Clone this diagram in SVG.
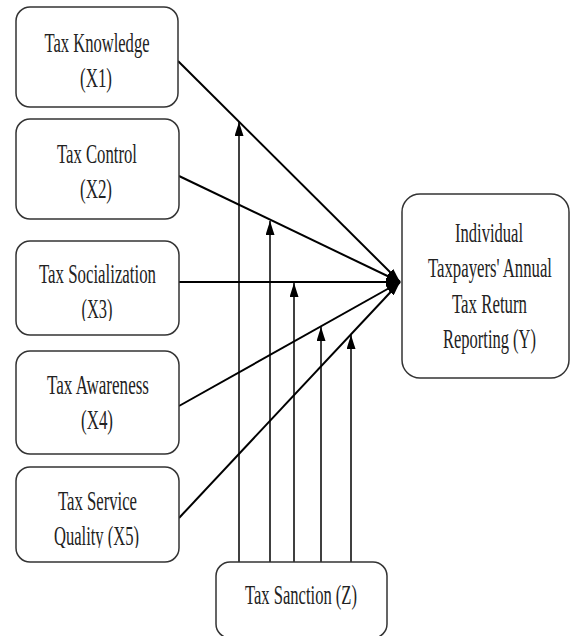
<svg xmlns="http://www.w3.org/2000/svg" width="570" height="636" viewBox="0 0 570 636">
<style>
.box{fill:#fff;stroke:#333;stroke-width:1.5}
.t{font-family:"Liberation Serif","Times New Roman",serif;font-size:27px;fill:#222;text-anchor:middle}
.ln{fill:none;stroke:#000;stroke-width:2}
.vl{fill:none;stroke:#000;stroke-width:1.5}
</style>
<defs>
<marker id="ah" viewBox="0 0 14 9" refX="14" refY="4.5" markerWidth="14" markerHeight="9" markerUnits="userSpaceOnUse" orient="auto">
<path d="M0,0 L14,4.5 L0,9 z" fill="#000"/>
</marker>
<clipPath id="c3"><rect x="16" y="241" width="163" height="80"/></clipPath>
<clipPath id="c5"><rect x="16" y="467" width="163" height="81"/></clipPath>
</defs>
<rect width="570" height="636" fill="#fff"/>
<g id="connectors">
<path class="ln" d="M178,61 L400,282" marker-end="url(#ah)"/>
<path class="ln" d="M179,176 L400,282" marker-end="url(#ah)"/>
<path class="ln" d="M179,282 L400,282" marker-end="url(#ah)"/>
<path class="ln" d="M179,406 L400,282" marker-end="url(#ah)"/>
<path class="ln" d="M179,518 L400,282" marker-end="url(#ah)"/>
<path class="vl" d="M239,562 L239,122" marker-end="url(#ah)"/>
<path class="vl" d="M270,562 L270,221" marker-end="url(#ah)"/>
<path class="vl" d="M294,562 L294,283" marker-end="url(#ah)"/>
<path class="vl" d="M321,562 L321,327" marker-end="url(#ah)"/>
<path class="vl" d="M351,562 L351,335" marker-end="url(#ah)"/>
</g>
<g id="x1">
<rect class="box" x="16" y="7" width="162" height="100" rx="14"/>
<text class="t" transform="translate(97,0) scale(0.62,1)" x="0" y="52" textLength="169.4" lengthAdjust="spacingAndGlyphs">Tax Knowledge</text>
<text class="t" transform="translate(96,0) scale(0.62,1)" x="0" y="87" textLength="51.6" lengthAdjust="spacingAndGlyphs">(X1)</text>
</g>
<g id="x2">
<rect class="box" x="16" y="119" width="163" height="100" rx="14"/>
<text class="t" transform="translate(97,0) scale(0.62,1)" x="0" y="163" textLength="129" lengthAdjust="spacingAndGlyphs">Tax Control</text>
<text class="t" transform="translate(96,0) scale(0.62,1)" x="0" y="198" textLength="51.6" lengthAdjust="spacingAndGlyphs">(X2)</text>
</g>
<g id="x3">
<rect class="box" x="16" y="241" width="163" height="94" rx="14"/>
<text class="t" transform="translate(97.5,0) scale(0.62,1)" x="0" y="283" textLength="188.7" lengthAdjust="spacingAndGlyphs">Tax Socialization</text>
<g clip-path="url(#c3)"><text class="t" transform="translate(97,0) scale(0.62,1)" x="0" y="318" textLength="50" lengthAdjust="spacingAndGlyphs">(X3)</text></g>
</g>
<g id="x4">
<rect class="box" x="16" y="351" width="163" height="103" rx="14"/>
<text class="t" transform="translate(98,0) scale(0.62,1)" x="0" y="394" textLength="164.5" lengthAdjust="spacingAndGlyphs">Tax Awareness</text>
<text class="t" transform="translate(97,0) scale(0.62,1)" x="0" y="429" textLength="51.6" lengthAdjust="spacingAndGlyphs">(X4)</text>
</g>
<g id="x5">
<rect class="box" x="16" y="467" width="163" height="95" rx="14"/>
<text class="t" transform="translate(97.5,0) scale(0.62,1)" x="0" y="510" textLength="127.4" lengthAdjust="spacingAndGlyphs">Tax Service</text>
<g clip-path="url(#c5)"><text class="t" transform="translate(96.5,0) scale(0.62,1)" x="0" y="545" textLength="137.1" lengthAdjust="spacingAndGlyphs">Quality (X5)</text></g>
</g>
<g id="y">
<rect class="box" x="402" y="194" width="167" height="184" rx="18"/>
<text class="t" transform="translate(489,0) scale(0.62,1)" x="0" y="242" textLength="109.7" lengthAdjust="spacingAndGlyphs">Individual</text>
<text class="t" transform="translate(490,0) scale(0.62,1)" x="0" y="277" textLength="200" lengthAdjust="spacingAndGlyphs">Taxpayers' Annual</text>
<text class="t" transform="translate(489.5,0) scale(0.62,1)" x="0" y="313" textLength="121" lengthAdjust="spacingAndGlyphs">Tax Return</text>
<text class="t" transform="translate(489.5,0) scale(0.62,1)" x="0" y="348" textLength="150" lengthAdjust="spacingAndGlyphs">Reporting (Y)</text>
</g>
<g id="z">
<rect class="box" x="216" y="562" width="171" height="76" rx="14"/>
<text class="t" transform="translate(301,0) scale(0.62,1)" x="0" y="604" textLength="180.6" lengthAdjust="spacingAndGlyphs">Tax Sanction (Z)</text>
</g>
</svg>
